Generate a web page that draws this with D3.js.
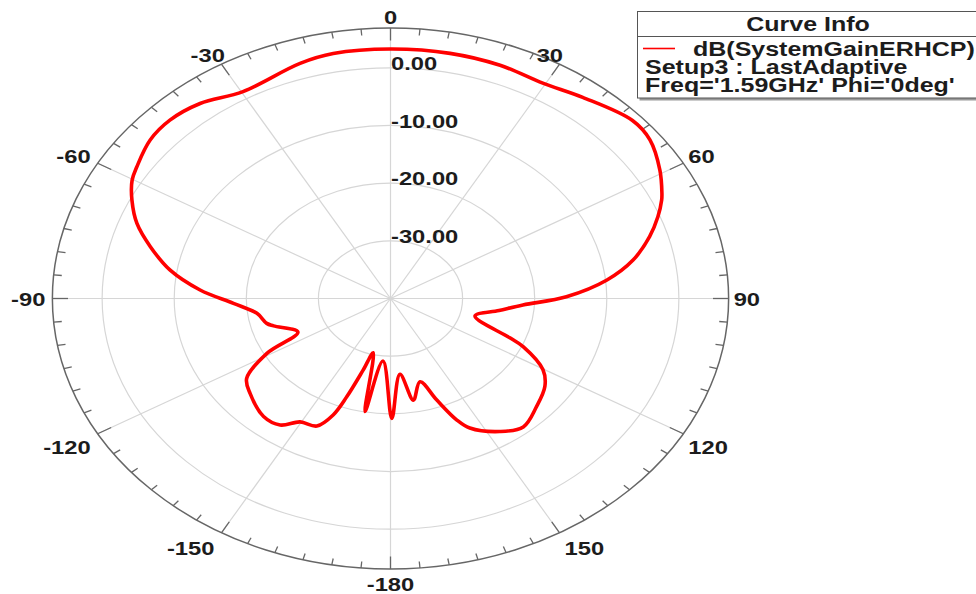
<!DOCTYPE html>
<html><head><meta charset="utf-8">
<script src="https://cdn.jsdelivr.net/npm/d3@7"></script>
<style>body{margin:0;background:#fff} svg{display:block;font-family:"Liberation Sans",Arial,sans-serif;font-weight:bold}</style>
</head><body>
<svg id="c" width="976" height="594"></svg>
<script>
// ---- data (theta in degrees, gain in dB) ----
const thetaDeg = [-174.5,-169.8,-165.7,-163,-160.4,-158.5,-155.2,-149.6,-145.1,-139.3,-130.2,-124.8,-119,-114.4,-106.3,-104.1,-97.9,-92.2,-86.8,-80.8,-74.9,-69.7,-64.6,-60.2,-57,-50.5,-44.7,-38,-29.7,-17.1,-10.6,0,11,20.6,29.5,37.4,47.4,52.6,59.2,64.1,65.6,69.1,73.4,78.8,83.9,89.3,93.5,97.9,104.5,112.4,114.4,120.3,125.5,132.8,140.4,146.7,153.9,156.4,160,164.2,169.8,174.3,179.5];
const gainDb   = [-29.1,-20.1,-30.3,-27.0,-21.9,-18.3,-15.65,-15.2,-13.25,-13.0,-14.5,-15.7,-20.4,-25.9,-23.1,-22.3,-21.3,-18.2,-13.55,-9.0,-5.5,-2.5,-0.3,1.3,1.95,3.2,3.5,2.9,1.3,2.65,3.2,3.25,3.3,3.2,2.9,3.9,5.6,5.3,3.5,1.85,1.3,-0.3,-2.5,-5.7,-9.8,-15.6,-21.6,-24.8,-27.9,-22.1,-19.8,-15.5,-13.7,-12.4,-11.1,-12.4,-15.0,-17.0,-21.3,-25.0,-22.1,-26.8,-19.2];
const radialTicks = [0,-10,-20,-30];
const radialTickLabels = ["0.00","-10.00","-20.00","-30.00"];
const angleTicks = [0,30,60,90,120,150,180,-150,-120,-90,-60,-30];
const angleTickLabels = ["0","30","60","90","120","150","-180","-150","-120","-90","-60","-30"];
const legendTitle = "Curve Info";
const legendLines = ["dB(SystemGainERHCP)","Setup3 : LastAdaptive","Freq='1.59GHz' Phi='0deg'"];
const seriesColor = "#ff0000";

// ---- layout ----
const cx = 390.5, cy = 298.5, R = 270.5, sx = 1.25;
const r = d3.scaleLinear().domain([-40, 6.9]).range([0, R]);
const rad = a => a * Math.PI / 180;
const P = (a, d) => [cx + sx * d * Math.sin(rad(a)), cy - d * Math.cos(rad(a))];
const svg = d3.select("#c");
const gridCol = "#d6d6d6", axisCol = "#666", textCol = "#1c1c1c";

// grid circles
svg.append("g").selectAll("ellipse").data(radialTicks).join("ellipse")
  .attr("cx", cx).attr("cy", cy).attr("rx", d => sx * r(d)).attr("ry", d => r(d))
  .attr("fill", "none").attr("stroke", gridCol).attr("stroke-width", 1.2);
// spokes
svg.append("g").selectAll("line").data(d3.range(0, 360, 30)).join("line")
  .attr("x1", cx).attr("y1", cy)
  .attr("x2", d => P(d, R)[0]).attr("y2", d => P(d, R)[1])
  .attr("stroke", gridCol).attr("stroke-width", 1.2);
// outer ring
svg.append("ellipse").attr("cx", cx).attr("cy", cy).attr("rx", sx * R).attr("ry", R)
  .attr("fill", "none").attr("stroke", axisCol).attr("stroke-width", 1.5);
// ticks
svg.append("g").selectAll("line").data(d3.range(0, 360, 5)).join("line")
  .each(function(a) {
    const len = a % 30 === 0 ? 12.5 : 6.5;
    const p0 = P(a, R), p1 = P(a, R - len);
    d3.select(this).attr("x1", p0[0]).attr("y1", p0[1]).attr("x2", p1[0]).attr("y2", p1[1]);
  })
  .attr("stroke", axisCol).attr("stroke-width", 1.3);

// curve
const pts = thetaDeg.map((t, i) => P(t, r(gainDb[i])));
svg.append("path")
  .attr("d", d3.line().curve(d3.curveCatmullRomClosed.alpha(0.5))(pts))
  .attr("fill", "none").attr("stroke", seriesColor).attr("stroke-width", 3.6)
  .attr("stroke-linejoin", "round");

// radial labels
const fs = 19, capMid = 0.358;
svg.append("g").selectAll("text").data(radialTicks).join("text")
  .attr("transform", d => `translate(${cx + 0.5},${cy - r(d) - 4.5 + capMid * fs}) scale(${sx},1)`)
  .attr("font-size", fs).attr("fill", textCol)
  .text((d, i) => radialTickLabels[i]);

// angle labels
function labelPlace(a) {
  const [x, y] = P(a, R);
  const s = Math.sin(rad(a)), c = Math.cos(rad(a));
  let anchor = "middle", lx = x;
  if (Math.abs(a) === 30) { anchor = "end"; lx = x + 3.5; }
  else if (s > 0.2) { anchor = "start"; lx = x + 5; }
  else if (s < -0.2) { anchor = "end"; lx = x - 7; }
  let dy;
  if (Math.abs(a) === 0) dy = -10.5;
  else if (Math.abs(a) === 180) dy = 15;
  else if (Math.abs(a) === 30) dy = -9;
  else if (Math.abs(a) === 60) dy = -7;
  else if (Math.abs(a) === 90) dy = 0.5;
  else if (Math.abs(a) === 120) dy = 13;
  else dy = 15;
  return { anchor, x: lx, y: y + dy };
}
svg.append("g").selectAll("text").data(angleTicks).join("text")
  .each(function(a, i) {
    const p = labelPlace(a);
    d3.select(this).attr("text-anchor", p.anchor)
      .attr("transform", `translate(${p.x},${p.y + capMid * fs}) scale(${sx},1)`)
      .text(angleTickLabels[i]);
  })
  .attr("font-size", fs).attr("fill", textCol);

// legend
const lg = svg.append("g");
const lfs = 20;
lg.append("rect").attr("x", 639.5).attr("y", 13.5).attr("width", 400).attr("height", 87)
  .attr("fill", "#9a9a9a");
lg.append("rect").attr("x", 637.5).attr("y", 11.5).attr("width", 400).attr("height", 86.5)
  .attr("fill", "#fff").attr("stroke", "#555").attr("stroke-width", 1);
lg.append("line").attr("x1", 637.5).attr("x2", 976).attr("y1", 36.5).attr("y2", 36.5)
  .attr("stroke", "#555").attr("stroke-width", 1);
lg.append("text").attr("text-anchor", "middle")
  .attr("transform", `translate(808,${23.5 + capMid * lfs}) scale(${sx},1)`)
  .attr("font-size", lfs).attr("fill", textCol).text(legendTitle);
lg.append("line").attr("x1", 643).attr("x2", 675).attr("y1", 48.5).attr("y2", 48.5)
  .attr("stroke", seriesColor).attr("stroke-width", 1.6);
const lpos = [[693, 49], [645, 66.5], [645, 84.5]];
legendLines.forEach((t, i) => {
  lg.append("text")
    .attr("transform", `translate(${lpos[i][0]},${lpos[i][1] + capMid * lfs}) scale(${sx},1)`)
    .attr("font-size", lfs).attr("fill", textCol).text(t);
});
</script>
</body></html>
